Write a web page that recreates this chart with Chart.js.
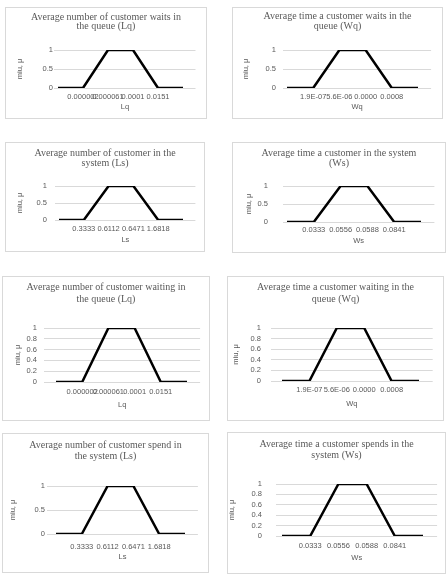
<!DOCTYPE html>
<html>
<head>
<meta charset="utf-8">
<script src="https://cdn.jsdelivr.net/npm/chart.js@4.4.0/dist/chart.umd.min.js"></script>
<style>
  body { margin: 0; background: #fff; width: 448px; height: 577px; position: relative; overflow: hidden; }
  .box { position: absolute; border: 1px solid #d9d9d9; background: #fff; }
  .box canvas { display: block; }
</style>
</head>
<body>
<script>
// membership values (miu) at each category point
var membership = [0, 0, 1, 1, 0, 0];

// category labels (first and last are blank shoulders)
var lqLabels = ['', '0.000002', '0.000061', '0.0001', '0.0151', ''];
var wqLabels = ['', '1.9E-07', '5.6E-06', '0.0000', '0.0008', ''];
var lsLabels = ['', '0.3333', '0.6112', '0.6471', '1.6818', ''];
var wsLabels = ['', '0.0333', '0.0556', '0.0588', '0.0841', ''];

var titles = [
  ['Average number of customer waits in', 'the queue (Lq)'],
  ['Average time a customer waits in the', 'queue (Wq)'],
  ['Average number of customer in the', 'system (Ls)'],
  ['Average time a customer in the system', '(Ws)'],
  ['Average number of customer waiting in', 'the queue (Lq)'],
  ['Average time a customer waiting in the', 'queue (Wq)'],
  ['Average number of customer spend in', 'the system (Ls)'],
  ['Average time a customer spends in the', 'system (Ws)']
];
var axisNames = ['Lq', 'Wq', 'Ls', 'Ws', 'Lq', 'Wq', 'Ls', 'Ws'];
var labelSets = [lqLabels, wqLabels, lsLabels, wsLabels, lqLabels, wqLabels, lsLabels, wsLabels];
var ySteps = [0.5, 0.5, 0.5, 0.5, 0.2, 0.2, 0.5, 0.2];

// layout in page pixels
var layouts = [
  { box: [5, 7, 206, 118],   p0: 58,  s: 25,   xmin: -0.15, top: 50,  bottom: 88,  titleY: [17, 26],   yTitleX: 20,  yTickRight: 53,  xLabelY: 97,  xTitleY: 107 },
  { box: [232, 7, 442, 118], p0: 287, s: 26.2, xmin: -0.15, top: 50,  bottom: 88,  titleY: [16, 26],   yTitleX: 246, yTickRight: 276, xLabelY: 97,  xTitleY: 107 },
  { box: [5, 142, 204, 251], p0: 59,  s: 24.8, xmin: -0.15, top: 186, bottom: 220, titleY: [153, 163], yTitleX: 20,  yTickRight: 47,  xLabelY: 229, xTitleY: 240 },
  { box: [232, 142, 445, 252], p0: 287, s: 26.8, xmin: -0.15, top: 186, bottom: 222, titleY: [153, 163], yTitleX: 249, yTickRight: 268, xLabelY: 230, xTitleY: 241 },
  { box: [2, 276, 209, 420], p0: 56,  s: 26.2, xmin: -0.45, top: 328, bottom: 382, titleY: [287, 299], yTitleX: 18,  yTickRight: 37,  xLabelY: 392, xTitleY: 405 },
  { box: [227, 276, 443, 420], p0: 282, s: 27.4, xmin: -0.4, top: 328, bottom: 381, titleY: [287, 299], yTitleX: 236, yTickRight: 261, xLabelY: 390, xTitleY: 404 },
  { box: [2, 433, 208, 572], p0: 56,  s: 25.8, xmin: -0.35, top: 486, bottom: 534, titleY: [445, 456], yTitleX: 13,  yTickRight: 45,  xLabelY: 547, xTitleY: 557 },
  { box: [227, 432, 445, 573], p0: 282, s: 28.2, xmin: -0.2, top: 484, bottom: 536, titleY: [444, 455], yTitleX: 232, yTickRight: 262, xLabelY: 546, xTitleY: 558 }
];

var grey = '#595959';
var sans = 'Liberation Sans';
var axisSize = 7.5, lh = 9;

layouts.forEach(function (c, i) {
  var cats = labelSets[i];
  var xmax = cats.length - 0.5;
  var bw = c.box[2] - c.box[0] + 1, bh = c.box[3] - c.box[1] + 1;
  var W = bw - 2, H = bh - 2;
  var ox = c.box[0] + 1, oy = c.box[1] + 1;
  var L = c.p0 + c.xmin * c.s - ox;
  var R = c.p0 + xmax * c.s - ox;
  var T = c.top - oy, B = c.bottom - oy;
  var pad = W - R;
  var tlh = c.titleY[1] - c.titleY[0];
  var tTop = c.titleY[0] - oy - tlh / 2;

  var div = document.createElement('div');
  div.className = 'box';
  div.style.left = c.box[0] + 'px';
  div.style.top = c.box[1] + 'px';
  div.style.width = W + 'px';
  div.style.height = H + 'px';
  var cv = document.createElement('canvas');
  cv.width = W; cv.height = H;
  div.appendChild(cv);
  document.body.appendChild(div);

  new Chart(cv.getContext('2d'), {
    type: 'line',
    data: {
      datasets: [{
        data: membership.map(function (v, k) { return { x: k, y: v }; }),
        borderColor: '#000',
        borderWidth: 2.5,
        borderJoinStyle: 'miter',
        pointRadius: 0,
        tension: 0,
        fill: false
      }]
    },
    options: {
      responsive: false,
      animation: false,
      devicePixelRatio: 1,
      layout: { padding: { left: pad, right: pad, top: 0, bottom: 0 } },
      plugins: {
        legend: { display: false },
        tooltip: { enabled: false },
        title: {
          display: true,
          text: titles[i],
          color: grey,
          font: { family: 'Liberation Serif', size: 10, weight: 'normal', lineHeight: tlh / 10 },
          padding: { top: tTop, bottom: T - tTop - 2 * tlh }
        }
      },
      scales: {
        x: {
          type: 'linear',
          min: c.xmin,
          max: xmax,
          grid: { display: false, drawTicks: false },
          border: { display: false },
          afterBuildTicks: function (s) {
            s.ticks = cats.map(function (t, k) { return { value: k }; }).filter(function (t) { return cats[t.value] !== ''; });
          },
          afterFit: function (s) { s.height = H - B; },
          ticks: {
            autoSkip: false, maxRotation: 0, minRotation: 0,
            color: grey,
            font: { family: sans, size: axisSize, lineHeight: lh / axisSize },
            padding: (c.xLabelY - oy) - B - lh / 2,
            callback: function (v) { return cats[v]; }
          },
          title: {
            display: true, text: axisNames[i], color: grey,
            font: { family: sans, size: axisSize, lineHeight: lh / axisSize },
            padding: { top: 0, bottom: H - (c.xTitleY - oy) - lh / 2 }
          }
        },
        y: {
          min: 0,
          max: 1,
          afterFit: function (s) { s.width = L - pad; },
          grid: { color: '#d9d9d9', lineWidth: 1, drawTicks: false },
          border: { display: false },
          ticks: {
            stepSize: ySteps[i],
            autoSkip: false,
            color: grey,
            font: { family: sans, size: axisSize, lineHeight: lh / axisSize },
            padding: (L + ox) - c.yTickRight,
            callback: function (v) { return String(Math.round(v * 10) / 10); }
          },
          title: {
            display: true, text: 'miu, μ', color: grey,
            font: { family: sans, size: axisSize, lineHeight: lh / axisSize },
            padding: { top: (c.yTitleX - ox) - pad - lh / 2, bottom: 0 }
          }
        }
      }
    }
  });
});
</script>
</body>
</html>
